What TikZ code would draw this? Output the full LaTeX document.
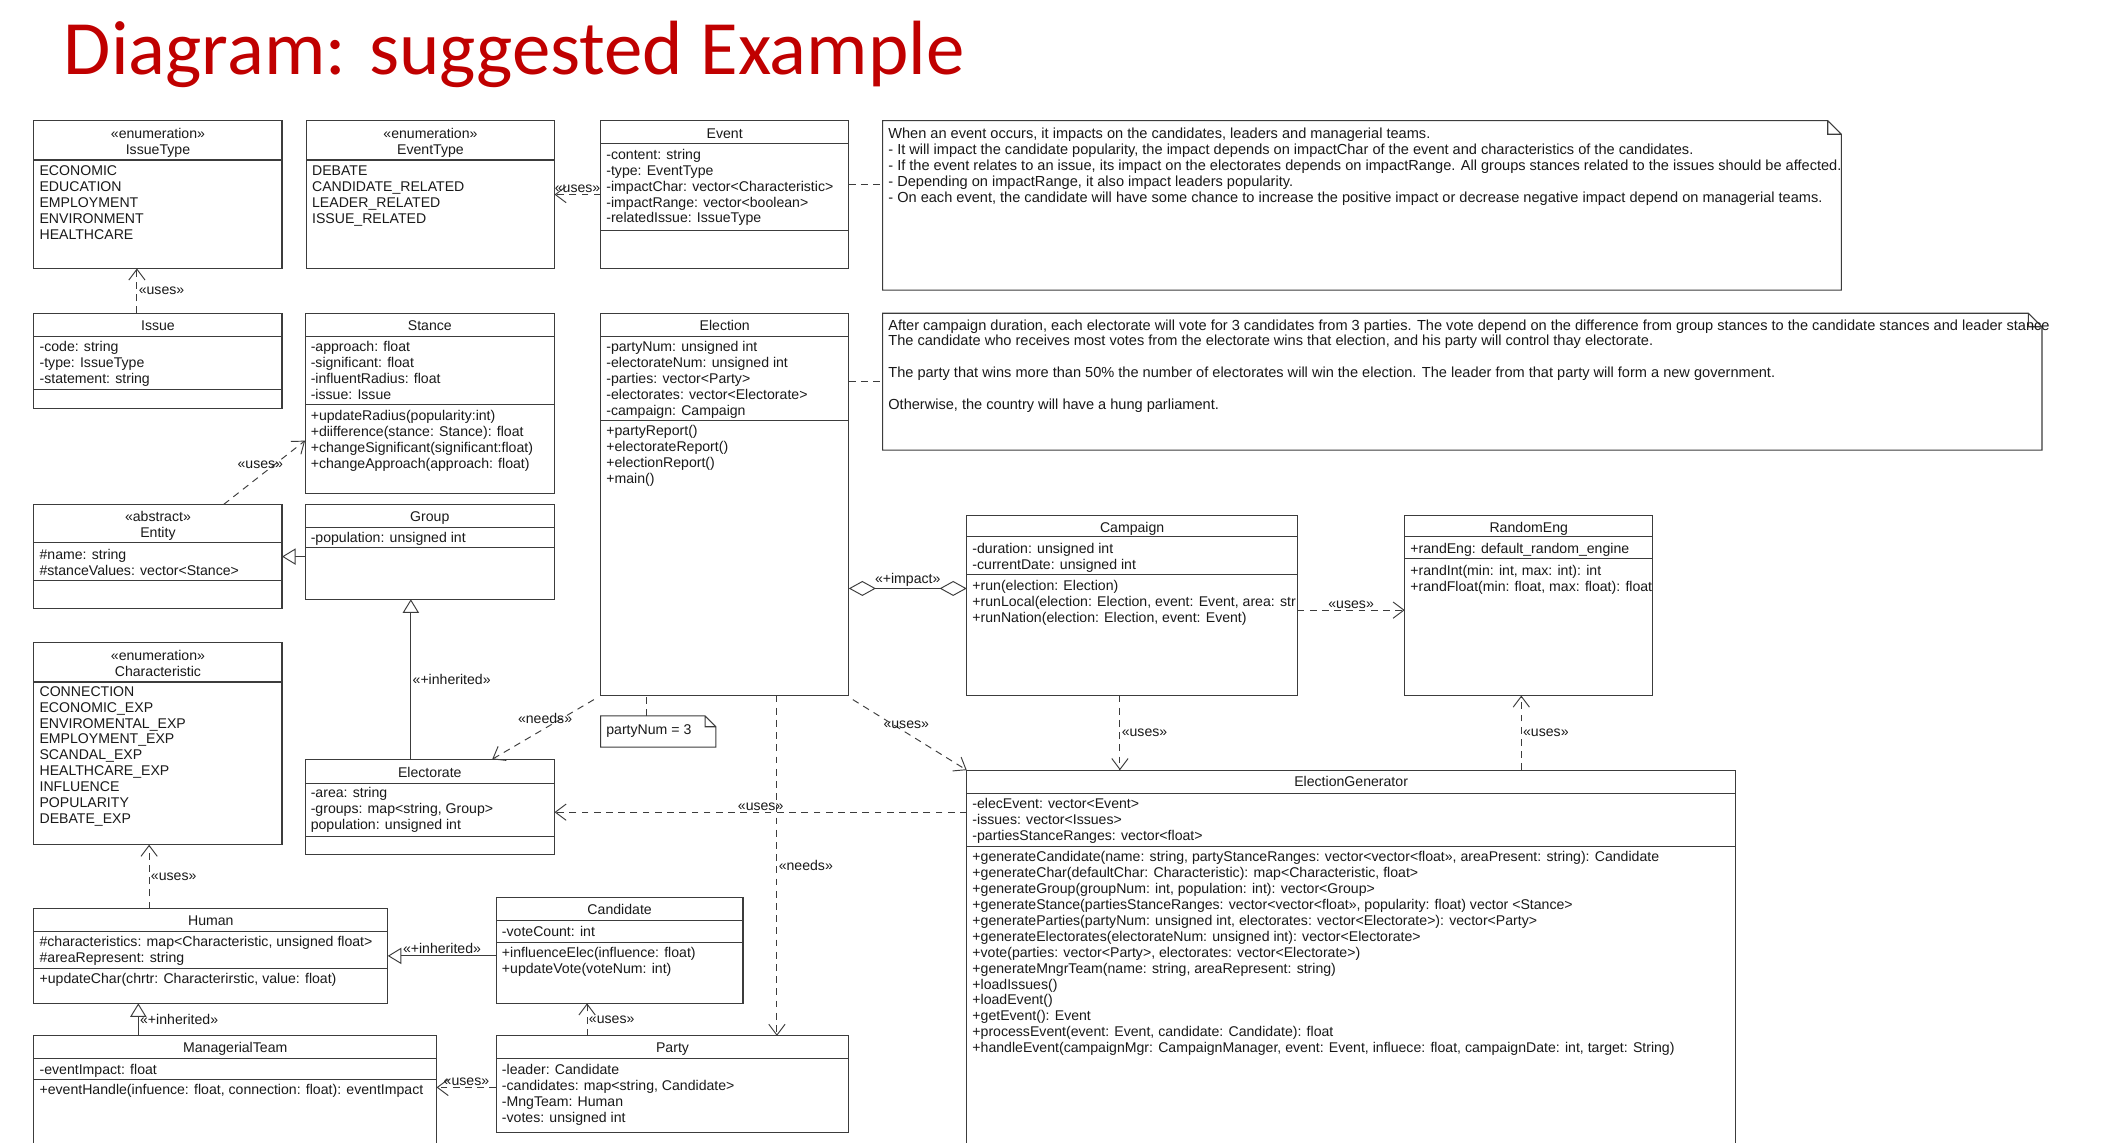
\documentclass[tikz,border=0pt]{standalone}
\usepackage{fontspec}
\setmainfont{Liberation Sans}
\newfontfamily\titlefont{Carlito}
\usetikzlibrary{arrows.meta}

\definecolor{titlered}{RGB}{192,0,0}
\definecolor{umlline}{RGB}{60,60,60}
\newcommand{\umlfont}{\fontsize{10.4}{11.75}\selectfont}
\newcommand{\notefont}{\fontsize{10.75}{11.75}\selectfont}

\tikzset{
  cls/.style={draw=umlline, line width=0.8pt, fill=white, anchor=north west, inner sep=0pt, outer sep=0pt},
  sep/.style={draw=umlline, line width=0.8pt},
  hd/.style={anchor=north, inner sep=0pt, align=center, font=\umlfont, text=black!90},
  txt/.style={anchor=north west, inner sep=0pt, align=left, font=\umlfont, text=black!90},
  lbl/.style={inner sep=1pt, font=\umlfont, text=black!90},
  notebox/.style={anchor=north west, inner sep=0pt, outer sep=0pt},
  uses/.style={draw=umlline, line width=0.7pt, dash pattern=on 5pt off 4pt, -{Straight Barb[length=8pt, width=12pt]}},
  inherit/.style={draw=umlline, line width=0.7pt, -{Triangle[open, fill=white, length=10pt, width=12pt]}},
  aggr/.style={draw=umlline, line width=0.7pt, {Diamond[open, fill=white, length=20pt, width=11pt]}-{Diamond[open, fill=white, length=20pt, width=11pt]}},
  notelink/.style={draw=umlline, line width=0.7pt, dash pattern=on 5pt off 4pt}
}

\begin{document}
\begin{tikzpicture}[x=1pt, y=-1pt]

\useasboundingbox (0,0) rectangle (1568,843);
\clip (0,0) rectangle (1568,843);
\fill [white] (0,0) rectangle (1568,843);

\node [anchor=base west, inner sep=0pt, font=\titlefont\fontsize{56.7}{60}\selectfont, text=titlered] (title) at (47,55) {Diagram: suggested Example};

% enumerations and classes
\node [cls, minimum width=183pt, minimum height=109pt] (issuetype) at (25,89) {};
\draw [sep] (25,118) -- (208,118);
\node [hd] at (116.5,94) {\strut«enumeration»\\IssueType};
\node [txt] at (29,121) {\strut ECONOMIC\\EDUCATION\\EMPLOYMENT\\ENVIRONMENT\\HEALTHCARE};

\node [cls, minimum width=183pt, minimum height=109pt] (eventtype) at (226,89) {};
\draw [sep] (226,118) -- (409,118);
\node [hd] at (317.5,94) {\strut«enumeration»\\EventType};
\node [txt] at (230,121) {\strut DEBATE\\CANDIDATE\_RELATED\\LEADER\_RELATED\\ISSUE\_RELATED};

\node [cls, minimum width=183pt, minimum height=109pt] (event) at (443,89) {};
\draw [sep] (443,106) -- (626,106);
\draw [sep] (443,170) -- (626,170);
\node [hd] at (534.5,94) {\strut Event};
\node [txt] at (447,109) {\strut -content: string\\-type: EventType\\-impactChar: vector<Characteristic>\\-impactRange: vector<boolean>\\-relatedIssue: IssueType};

\node [cls, minimum width=183pt, minimum height=70pt] (issue) at (25,231) {};
\draw [sep] (25,248) -- (208,248);
\draw [sep] (25,287) -- (208,287);
\node [hd] at (116.5,235) {\strut Issue};
\node [txt] at (29,251) {\strut -code: string\\-type: IssueType\\-statement: string};

\node [cls, minimum width=184pt, minimum height=133pt] (stance) at (225,231) {};
\draw [sep] (225,248) -- (409,248);
\draw [sep] (225,298) -- (409,298);
\node [hd] at (317,235) {\strut Stance};
\node [txt] at (229,251) {\strut -approach: float\\-significant: float\\-influentRadius: float\\-issue: Issue};
\node [txt] at (229,302) {\strut +updateRadius(popularity:int)\\+diifference(stance: Stance): float\\+changeSignificant(significant:float)\\+changeApproach(approach: float)};

\node [cls, minimum width=183pt, minimum height=282pt] (election) at (443,231) {};
\draw [sep] (443,248) -- (626,248);
\draw [sep] (443,310) -- (626,310);
\node [hd] at (534.5,235) {\strut Election};
\node [txt] at (447,251) {\strut -partyNum: unsigned int\\-electorateNum: unsigned int\\-parties: vector<Party>\\-electorates: vector<Electorate>\\-campaign: Campaign};
\node [txt] at (447,313) {\strut +partyReport()\\+electorateReport()\\+electionReport()\\+main()};

\node [cls, minimum width=183pt, minimum height=77pt] (entity) at (25,372) {};
\draw [sep] (25,400) -- (208,400);
\draw [sep] (25,428) -- (208,428);
\node [hd] at (116.5,376) {\strut«abstract»\\Entity};
\node [txt] at (29,404) {\strut\#name: string\\\#stanceValues: vector<Stance>};

\node [cls, minimum width=184pt, minimum height=70pt] (group) at (225,372) {};
\draw [sep] (225,389) -- (409,389);
\draw [sep] (225,404) -- (409,404);
\node [hd] at (317,376) {\strut Group};
\node [txt] at (229,392) {\strut -population: unsigned int};

\node [cls, minimum width=183pt, minimum height=149pt] (characteristic) at (25,474) {};
\draw [sep] (25,503) -- (208,503);
\node [hd] at (116.5,479) {\strut«enumeration»\\Characteristic};
\node [txt] at (29,505) {\strut CONNECTION\\ECONOMIC\_EXP\\ENVIROMENTAL\_EXP\\EMPLOYMENT\_EXP\\SCANDAL\_EXP\\HEALTHCARE\_EXP\\INFLUENCE\\POPULARITY\\DEBATE\_EXP};

\node [cls, minimum width=184pt, minimum height=70pt] (electorate) at (225,560) {};
\draw [sep] (225,578) -- (409,578);
\draw [sep] (225,617) -- (409,617);
\node [hd] at (317,565) {\strut Electorate};
\node [txt] at (229,580) {\strut -area: string\\-groups: map<string, Group>\\population: unsigned int};

\node [cls, minimum width=244pt, minimum height=133pt] (campaign) at (713,380) {};
\draw [sep] (713,396) -- (957,396);
\draw [sep] (713,424) -- (957,424);
\node [hd] at (835,384) {\strut Campaign};
\node [txt] at (717,400) {\strut -duration: unsigned int\\-currentDate: unsigned int};
\node [txt] at (717,427) {\strut +run(election: Election)\\+runLocal(election: Election, event: Event, area: str\\+runNation(election: Election, event: Event)};

\node [cls, minimum width=183pt, minimum height=133pt] (randomeng) at (1036,380) {};
\draw [sep] (1036,396) -- (1219,396);
\draw [sep] (1036,412) -- (1219,412);
\node [hd] at (1127.5,384) {\strut RandomEng};
\node [txt] at (1040,400) {\strut +randEng: default\_random\_engine};
\node [txt] at (1040,416) {\strut +randInt(min: int, max: int): int\\+randFloat(min: float, max: float): float};

\node [cls, minimum width=567pt, minimum height=300pt] (electiongenerator) at (713,568) {};
\draw [sep] (713,585) -- (1280,585);
\draw [sep] (713,624) -- (1280,624);
\node [hd] at (996.5,572) {\strut ElectionGenerator};
\node [txt] at (717,588) {\strut -elecEvent: vector<Event>\\-issues: vector<Issues>\\-partiesStanceRanges: vector<float>};
\node [txt] at (717,627) {\strut +generateCandidate(name: string, partyStanceRanges: vector<vector<float», areaPresent: string): Candidate\\
+generateChar(defaultChar: Characteristic): map<Characteristic, float>\\
+generateGroup(groupNum: int, population: int): vector<Group>\\
+generateStance(partiesStanceRanges: vector<vector<float», popularity: float) vector <Stance>\\
+generateParties(partyNum: unsigned int, electorates: vector<Electorate>): vector<Party>\\
+generateElectorates(electorateNum: unsigned int): vector<Electorate>\\
+vote(parties: vector<Party>, electorates: vector<Electorate>)\\
+generateMngrTeam(name: string, areaRepresent: string)\\
+loadIssues()\\
+loadEvent()\\
+getEvent(): Event\\
+processEvent(event: Event, candidate: Candidate): float\\
+handleEvent(campaignMgr: CampaignManager, event: Event, influece: float, campaignDate: int, target: String)};

\node [cls, minimum width=261pt, minimum height=70pt] (human) at (25,670) {};
\draw [sep] (25,687) -- (286,687);
\draw [sep] (25,714) -- (286,714);
\node [hd] at (155.5,674) {\strut Human};
\node [txt] at (29,690) {\strut\#characteristics: map<Characteristic, unsigned float>\\\#areaRepresent: string};
\node [txt] at (29,717) {\strut +updateChar(chrtr: Characterirstic, value: float)};

\node [cls, minimum width=182pt, minimum height=78pt] (candidate) at (366,662) {};
\draw [sep] (366,679) -- (548,679);
\draw [sep] (366,695) -- (548,695);
\node [hd] at (457,666) {\strut Candidate};
\node [txt] at (370,682) {\strut -voteCount: int};
\node [txt] at (370,698) {\strut +influenceElec(influence: float)\\+updateVote(voteNum: int)};

\node [cls, minimum width=297pt, minimum height=100pt] (managerialteam) at (25,764) {};
\draw [sep] (25,781) -- (322,781);
\draw [sep] (25,796) -- (322,796);
\node [hd] at (173.5,768) {\strut ManagerialTeam};
\node [txt] at (29,784) {\strut -eventImpact: float};
\node [txt] at (29,799) {\strut +eventHandle(infuence: float, connection: float): eventImpact};

\node [cls, minimum width=260pt, minimum height=71pt] (party) at (366,764) {};
\draw [sep] (366,781) -- (626,781);
\node [hd] at (496,768) {\strut Party};
\node [txt] at (370,784) {\strut -leader: Candidate\\-candidates: map<string, Candidate>\\-MngTeam: Human\\-votes: unsigned int};

% notes
\node [notebox, minimum width=707pt, minimum height=125pt] (note1) at (651,89) {};
\node [notebox, minimum width=855pt, minimum height=101pt] (note2) at (651,231) {};
\node [notebox, minimum width=85pt, minimum height=23pt] (pnote) at (443,528) {};
\foreach \n/\f in {note1/10, note2/10, pnote/8}
  \draw [sep, fill=white] (\n.north west) -- ([xshift=-\f pt]\n.north east) -- ([yshift=-\f pt]\n.north east)
    -- (\n.south east) -- (\n.south west) -- cycle
    ([xshift=-\f pt]\n.north east) -- ++(0,\f) -- ++(\f,0);

\node [txt, font=\notefont] at (655,94) {\strut When an event occurs, it impacts on the candidates, leaders and managerial teams.\\
- It will impact the candidate popularity, the impact depends on impactChar of the event and characteristics of the candidates.\\
- If the event relates to an issue, its impact on the electorates depends on impactRange. All groups stances related to the issues should be affected.\\
- Depending on impactRange, it also impact leaders popularity.\\
- On each event, the candidate will have some chance to increase the positive impact or decrease negative impact depend on managerial teams.};
\node [txt, font=\notefont] at (655,235) {\strut After campaign duration, each electorate will vote for 3 candidates from 3 parties. The vote depend on the difference from group stances to the candidate stances and leader stance\\
The candidate who receives most votes from the electorate wins that election, and his party will control thay electorate.\\[11.75pt]
The party that wins more than 50\% the number of electorates will win the election. The leader from that party will form a new government.\\[11.75pt]
Otherwise, the country will have a hung parliament.};
\node [txt] at (447,533) {\strut partyNum = 3};

% connectors
\draw [notelink] ([yshift=7.5pt]event.east) -- ([yshift=7.5pt]event.east -| note1.west);
\draw [notelink] (note2.west -| election.east) -- (note2.west);
\draw [notelink] ([xshift=-8.5pt]pnote.north) -- ([xshift=-8.5pt]pnote.north |- election.south);

\draw [uses] ([xshift=-15.5pt]issue.north) -- ([xshift=-15.5pt]issuetype.south) node [lbl, midway, right] {«uses»};
\draw [uses] (event.west) -- (eventtype.east) node [lbl, midway, above] {«uses»};
\draw [uses] ([xshift=48.5pt]entity.north) -- ([yshift=-27.5pt]stance.west) node [lbl, pos=0.55, xshift=-6pt, yshift=3pt] {«uses»};
\draw [inherit] (group.west |- entity.east) -- (entity.east);
\draw [inherit] ([xshift=-14pt]electorate.north) -- ([xshift=-14pt]group.south) node [lbl, midway, right] {«+inherited»};
\draw [uses] ([shift={(-5pt,-3pt)}]election.south west) -- ([xshift=46pt]electorate.north) node [lbl, pos=0.32, xshift=-12pt] {«needs»};
\draw [uses] ([xshift=38.5pt]election.south) -- ([xshift=38.5pt]election.south |- party.north) node [lbl, midway, right] {«needs»};
\draw [uses] ([shift={(3pt,-3pt)}]election.south east) -- (electiongenerator.north west) node [lbl, pos=0.35, xshift=10pt] {«uses»};
\draw [uses] ([yshift=-4pt]electorate.east -| electiongenerator.west) -- ([yshift=-4pt]electorate.east) node [lbl, midway, above] {«uses»};
\draw [aggr] ([yshift=12.5pt]campaign.west -| election.east) -- ([yshift=12.5pt]campaign.west) node [lbl, midway, above] {«+impact»};
\draw [uses] ([yshift=-3.5pt]campaign.east) -- ([yshift=-3.5pt]randomeng.west) node [lbl, midway, above] {«uses»};
\draw [uses] ([xshift=-9pt]campaign.south) -- ([xshift=-9pt]campaign.south |- electiongenerator.north) node [lbl, midway, right] {«uses»};
\draw [uses] ([xshift=-5.5pt]randomeng.south |- electiongenerator.north) -- ([xshift=-5.5pt]randomeng.south) node [lbl, midway, right] {«uses»};
\draw [uses] ([xshift=-6.5pt]characteristic.south |- human.north) -- ([xshift=-6.5pt]characteristic.south) node [lbl, midway, right] {«uses»};
\draw [inherit] (candidate.west |- human.east) -- (human.east) node [lbl, midway, above] {«+inherited»};
\draw [inherit] ([xshift=-71.5pt]managerialteam.north) -- ([xshift=-71.5pt]managerialteam.north |- human.south) node [lbl, midway, right] {«+inherited»};
\draw [uses] ([xshift=-24pt]candidate.south |- party.north) -- ([xshift=-24pt]candidate.south) node [lbl, midway, right] {«uses»};
\draw [uses] ([yshift=-2.5pt]party.west) -- ([yshift=-2.5pt]party.west -| managerialteam.east) node [lbl, midway, above] {«uses»};

\end{tikzpicture}
\end{document}
